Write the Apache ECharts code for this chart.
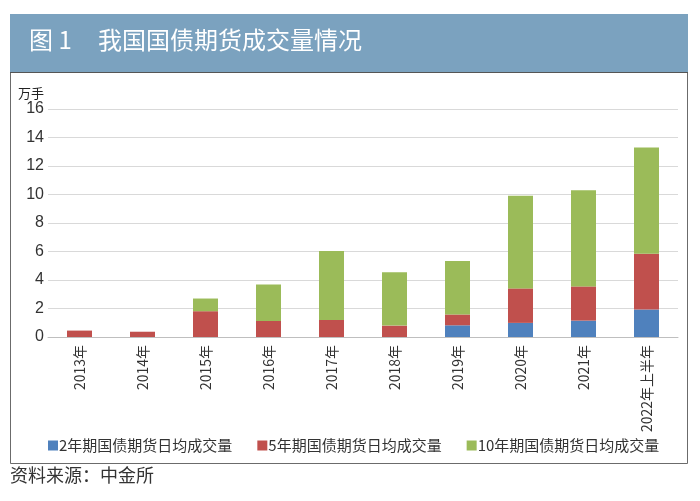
<!DOCTYPE html>
<html><head><meta charset="utf-8">
<script src="https://cdn.jsdelivr.net/npm/echarts@6/dist/echarts.min.js"></script>
<style>html,body{margin:0;padding:0;background:#fff}#c{width:700px;height:501px}</style>
</head><body><div id="c"></div>
<script>
var categories = ['2013年','2014年','2015年','2016年','2017年','2018年','2019年','2020年','2021年','2022年上半年'];
var seriesNames = ['2年期国债期货日均成交量','5年期国债期货日均成交量','10年期国债期货日均成交量'];
var v2y  = [0, 0, 0, 0, 0, 0, 0.82, 0.99, 1.15, 1.93];
var v5y  = [0.45, 0.37, 1.81, 1.13, 1.20, 0.80, 0.76, 2.42, 2.40, 3.92];
var v10y = [0, 0, 0.89, 2.56, 4.84, 3.74, 3.75, 6.51, 6.74, 7.45];
var yTicks = [0, 2, 4, 6, 8, 10, 12, 14, 16];
var figLabel = '图 1';
var titleText = '我国国债期货成交量情况';
var unitText = '万手';
var sourceText = '资料来源：中金所';

var font = '"Noto Sans CJK SC", "Noto Sans", sans-serif';
var colors = ['#4f81bd', '#c0504d', '#9bbb59'];
var chart = echarts.init(document.getElementById('c'), null, {renderer: 'canvas'});
var values = [v2y, v5y, v10y];
chart.setOption({
  animation: false,
  textStyle: {fontFamily: font},
  color: colors,
  graphic: [
    {type: 'rect', z: -10, shape: {x: 10.5, y: 14.5, width: 677, height: 449}, style: {fill: '#fff', stroke: '#6b6b6b', lineWidth: 1}},
    {type: 'rect', z: -9, shape: {x: 10, y: 14, width: 678, height: 58}, style: {fill: '#7ba2bf'}},
    {type: 'line', z: -8, shape: {x1: 10, y1: 72.5, x2: 688, y2: 72.5}, style: {stroke: '#555', lineWidth: 1}},
    {type: 'text', left: 29, top: 28, style: {text: figLabel, fill: '#fff', font: '24px ' + font}},
    {type: 'text', left: 98, top: 28, style: {text: titleText, fill: '#fff', font: '24px ' + font}},
    {type: 'text', left: 10, top: 466, style: {text: sourceText, fill: '#333', font: '18px ' + font}},
    {type: 'text', left: 18, top: 87, style: {text: unitText, fill: '#222', font: '13px ' + font}}
  ],
  grid: {left: 48, right: 22, top: 109, bottom: 164, containLabel: false},
  legend: {
    left: 43, top: 433, icon: 'rect', itemWidth: 10, itemHeight: 10, itemGap: 25,
    textStyle: {fontSize: 15, color: '#333', fontFamily: font, padding: [0, 0, 0, -4]},
    data: seriesNames
  },
  xAxis: {
    type: 'category', data: categories,
    axisLine: {lineStyle: {color: '#bfbfbf'}},
    axisTick: {show: false},
    axisLabel: {rotate: 90, interval: 0, fontSize: 14, color: '#333', margin: 8, fontFamily: font}
  },
  yAxis: {
    type: 'value', min: yTicks[0], max: yTicks[yTicks.length - 1], interval: 2,
    axisLine: {show: false}, axisTick: {show: false},
    splitLine: {lineStyle: {color: '#d9d9d9'}},
    axisLabel: {fontSize: 16, color: '#333', margin: 4, fontFamily: 'Liberation Sans, Arial, sans-serif'}
  },
  series: seriesNames.map(function (n, i) {
    return {name: n, type: 'bar', stack: 'total', barWidth: 25, data: values[i]};
  })
});
</script></body></html>
